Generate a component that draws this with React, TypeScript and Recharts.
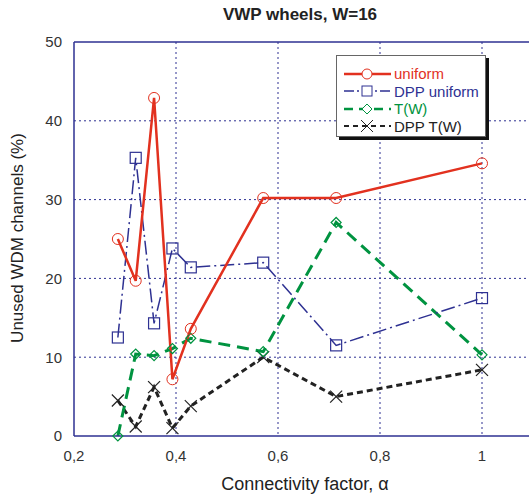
import React from 'react';
import { LineChart, Line, XAxis, YAxis, CartesianGrid, ReferenceLine } from 'recharts';

const alpha = [0.286, 0.321, 0.357, 0.393, 0.429, 0.571, 0.714, 1.0];
const uniform = [25.0, 19.7, 42.9, 7.2, 13.6, 30.2, 30.2, 34.6];
const dppUniform = [12.5, 35.3, 14.3, 23.8, 21.4, 22.0, 11.5, 17.5];
const tw = [0.0, 10.4, 10.2, 11.1, 12.4, 10.7, 27.1, 10.3];
const dppTw = [4.5, 1.2, 6.2, 1.0, 3.8, 10.0, 5.0, 8.4];

const xTicks = [0.2, 0.4, 0.6, 0.8, 1.0];
const yTicks = [0, 10, 20, 30, 40, 50];

const RED = '#e2311f';
const BLUE = '#2e3192';
const GREEN = '#009340';
const BLACK = '#222222';
const FONT = '"Liberation Sans", Arial, sans-serif';

const data = alpha.map((a, i) => ({
  alpha: a,
  uniform: uniform[i],
  dppUniform: dppUniform[i],
  tw: tw[i],
  dppTw: dppTw[i],
}));

const Circle = (props: any) => {
  const { cx, cy, index } = props;
  return <circle key={index} cx={cx} cy={cy} r={5.5} fill="none" stroke={RED} strokeWidth={1} />;
};
const Square = (props: any) => {
  const { cx, cy, index } = props;
  return <rect key={index} x={cx - 5.5} y={cy - 5.5} width={11} height={11} fill="none" stroke={BLUE} strokeWidth={1.2} />;
};
const Diamond = (props: any) => {
  const { cx, cy, index } = props;
  const s = 5;
  return (
    <polygon
      key={index}
      points={`${cx - s},${cy} ${cx},${cy - s} ${cx + s},${cy} ${cx},${cy + s}`}
      fill="none"
      stroke={GREEN}
      strokeWidth={1.2}
    />
  );
};
const Cross = (props: any) => {
  const { cx, cy, index } = props;
  const s = 6;
  return (
    <g key={index}>
      <line x1={cx - s} y1={cy - s} x2={cx + s} y2={cy + s} stroke={BLACK} strokeWidth={1.2} />
      <line x1={cx - s} y1={cy + s} x2={cx + s} y2={cy - s} stroke={BLACK} strokeWidth={1.2} />
    </g>
  );
};

const legendItems = [
  { label: 'uniform', color: RED, dash: undefined, width: 2.5, marker: 'circle' },
  { label: 'DPP uniform', color: BLUE, dash: '10 3 2 3', width: 1.5, marker: 'square' },
  { label: 'T(W)', color: GREEN, dash: '9 6', width: 2.5, marker: 'diamond' },
  { label: 'DPP T(W)', color: BLACK, dash: '5 4', width: 2, marker: 'cross' },
];

const LegendMarker = ({ kind, color }: { kind: string; color: string }) => {
  const cx = 24;
  const cy = 8;
  if (kind === 'circle') return <circle cx={cx} cy={cy} r={5} fill="white" stroke={color} />;
  if (kind === 'square') return <rect x={cx - 5} y={cy - 5} width={10} height={10} fill="white" stroke={color} />;
  if (kind === 'diamond')
    return <polygon points={`${cx - 5},${cy} ${cx},${cy - 5} ${cx + 5},${cy} ${cx},${cy + 5}`} fill="white" stroke={color} />;
  return (
    <g>
      <line x1={cx - 6} y1={cy - 6} x2={cx + 6} y2={cy + 6} stroke={color} />
      <line x1={cx - 6} y1={cy + 6} x2={cx + 6} y2={cy - 6} stroke={color} />
    </g>
  );
};

const fmt = (v: number) => String(v).replace('.', ',');

export default function App() {
  return (
    <div style={{ position: 'absolute', left: 0, top: 0, width: 529, height: 504, overflow: 'hidden', background: 'white', fontFamily: FONT }}>
      <div style={{ position: 'absolute', left: 0, top: 5, width: 600, textAlign: 'center', fontWeight: 'bold', fontSize: 17, color: '#222' }}>
        VWP wheels, W=16
      </div>
      <LineChart width={545} height={504} data={data} margin={{ top: 42, right: 12, bottom: 0, left: 0 }}>
        <CartesianGrid
          stroke={BLUE}
          strokeDasharray="2 3"
          strokeWidth={1}
          verticalValues={[0.4, 0.6, 0.8, 1.0]}
          horizontalValues={[10, 20, 30, 40]}
        />
        <XAxis
          dataKey="alpha"
          type="number"
          domain={[0.2, 1.1]}
          ticks={xTicks}
          tickFormatter={fmt}
          axisLine={{ stroke: BLUE, strokeWidth: 1.5 }}
          tickLine={false}
          tickSize={0}
          tickMargin={14}
          height={68}
          tick={{ fill: '#333', fontSize: 15, fontFamily: FONT }}
          allowDataOverflow
        />
        <YAxis
          type="number"
          domain={[0, 50]}
          ticks={yTicks}
          axisLine={{ stroke: BLUE, strokeWidth: 1.5 }}
          tickLine={false}
          tickSize={0}
          tickMargin={12}
          width={74}
          tick={{ fill: '#333', fontSize: 15, fontFamily: FONT }}
        />
        <ReferenceLine y={50} stroke={BLUE} strokeWidth={1.5} />
        <Line dataKey="dppTw" stroke={BLACK} strokeWidth={3} strokeDasharray="6 4" dot={Cross} isAnimationActive={false} />
        <Line dataKey="tw" stroke={GREEN} strokeWidth={3} strokeDasharray="12 7" dot={Diamond} isAnimationActive={false} />
        <Line dataKey="dppUniform" stroke={BLUE} strokeWidth={1.5} strokeDasharray="14 4 2 4" dot={Square} isAnimationActive={false} />
        <Line dataKey="uniform" stroke={RED} strokeWidth={2.5} dot={Circle} isAnimationActive={false} />
      </LineChart>
      <div style={{ position: 'absolute', left: 150, top: 474, width: 310, textAlign: 'center', fontSize: 18, color: '#222' }}>
        Connectivity factor, α
      </div>
      <div
        style={{
          position: 'absolute',
          left: 18,
          top: 238,
          transform: 'translate(-50%, -50%) rotate(-90deg)',
          whiteSpace: 'nowrap',
          fontSize: 17,
          color: '#222',
        }}
      >
        Unused WDM channels (%)
      </div>
      <div
        style={{
          position: 'absolute',
          left: 336,
          top: 55,
          width: 150,
          height: 82,
          background: 'white',
          border: '1px solid #666',
          boxShadow: '3px 3px 0 #111',
          boxSizing: 'border-box',
          paddingTop: 9,
        }}
      >
        {legendItems.map((it) => (
          <div key={it.label} style={{ display: 'flex', alignItems: 'center', height: 17.5, marginLeft: 6 }}>
            <svg width={50} height={16}>
              <line x1={1} y1={8} x2={48} y2={8} stroke={it.color} strokeWidth={it.width} strokeDasharray={it.dash} />
              <LegendMarker kind={it.marker} color={it.color} />
            </svg>
            <span style={{ fontSize: 15, color: it.color, marginLeft: 1 }}>{it.label}</span>
          </div>
        ))}
      </div>
    </div>
  );
}
